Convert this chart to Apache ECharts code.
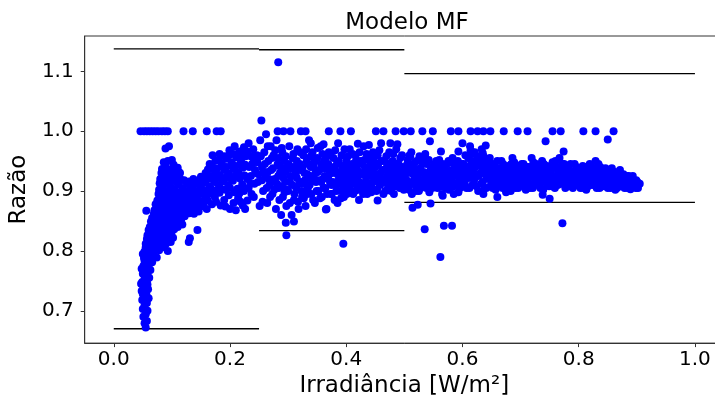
<!DOCTYPE html>
<html>
<head>
<meta charset="utf-8">
<script src="https://cdn.jsdelivr.net/npm/echarts@6/dist/echarts.min.js"></script>
<style>
  html, body { margin: 0; padding: 0; background: #fff; overflow: hidden; }
  /* plot runs past the right edge of the window, like the cropped original */
  #chart { width: 724px; height: 403px; }
</style>
</head>
<body>
<div id="chart"></div>
<script>
// Horizontal reference segments (x start, x end, level)
const segStart = [0, 0.25, 0.5, 0, 0.25, 0.5];
const segEnd = [0.25, 0.5, 1.0, 0.25, 0.5, 1.0];
const segLevel = [1.1375, 1.136, 1.096, 0.670, 0.834, 0.881];

const xTicks = [0, 0.2, 0.4, 0.6, 0.8, 1.0];
const yTicks = [0.7, 0.8, 0.9, 1.0, 1.1];

// Points sitting on ratio = 1.0
const rowOne = [
    [0.046,1],[0.052,1],[0.057,1],[0.062,1],[0.067,1],[0.072,1],[0.077,1],[0.083,1],[0.088,1],[0.093,1],
    [0.120,1],[0.136,1],[0.160,1],[0.177,1],[0.184,1],[0.282,1],[0.292,1],[0.304,1],[0.322,1],[0.330,1],
    [0.370,1],[0.390,1],[0.408,1],[0.451,1],[0.464,1],[0.485,1],[0.499,1],[0.511,1],[0.531,1],[0.549,1],
    [0.580,1],[0.593,1],[0.614,1],[0.626,1],[0.636,1],[0.648,1],[0.671,1],[0.695,1],[0.712,1],[0.755,1],
    [0.769,1],[0.808,1],[0.829,1],[0.860,1]
];

// Steep rise at low irradiance
const risePts = [
    [0.055,0.672],[0.053,0.679],[0.057,0.683],[0.051,0.690],[0.055,0.694],[0.058,0.700],[0.050,0.703],[0.053,0.709],
    [0.057,0.713],[0.049,0.718],[0.052,0.724],[0.056,0.727],[0.060,0.721],[0.048,0.733],[0.051,0.738],[0.055,0.741],
    [0.059,0.736],[0.049,0.748],[0.053,0.752],[0.057,0.749],[0.061,0.755],[0.050,0.762],[0.054,0.766],[0.058,0.763],
    [0.063,0.768],[0.051,0.775],[0.055,0.779],[0.060,0.776],[0.066,0.781],[0.052,0.788],[0.057,0.791],[0.062,0.787],
    [0.068,0.793],[0.074,0.789],[0.053,0.799],[0.058,0.803],[0.064,0.798],[0.070,0.805],[0.078,0.801],[0.086,0.806],
    [0.093,0.800],[0.055,0.812],[0.061,0.816],[0.067,0.811],[0.073,0.818],[0.080,0.814],[0.088,0.819],[0.098,0.815],
    [0.058,0.826],[0.064,0.830],[0.070,0.824],[0.077,0.832],[0.084,0.827],[0.091,0.834],[0.099,0.829],[0.104,0.836],
    [0.062,0.840],[0.068,0.845],[0.075,0.839],[0.082,0.846],[0.089,0.841],[0.096,0.848],[0.103,0.843],[0.111,0.849],
    [0.118,0.844],[0.066,0.855],[0.072,0.859],[0.079,0.853],[0.086,0.861],[0.093,0.856],[0.100,0.862],[0.107,0.857],
    [0.114,0.864],[0.122,0.858],[0.130,0.863],[0.070,0.868],[0.077,0.872],[0.084,0.866],[0.091,0.874],[0.098,0.869],
    [0.105,0.875],[0.112,0.870],[0.119,0.877],[0.126,0.871],[0.134,0.876],[0.142,0.869],[0.150,0.874],[0.160,0.870],
    [0.075,0.884],[0.081,0.889],[0.087,0.882],[0.094,0.891],[0.101,0.885],[0.108,0.892],[0.115,0.886],[0.122,0.893],
    [0.129,0.887],[0.136,0.894],[0.143,0.888],[0.150,0.895],[0.158,0.889],[0.166,0.896],[0.174,0.890],[0.182,0.897],
    [0.190,0.885],[0.198,0.893],[0.206,0.880],[0.214,0.888],[0.222,0.876],[0.230,0.884],[0.078,0.902],[0.084,0.907],
    [0.090,0.900],[0.097,0.909],[0.104,0.903],[0.111,0.911],[0.118,0.905],[0.126,0.912],[0.133,0.906],[0.141,0.913],
    [0.149,0.907],[0.157,0.914],[0.165,0.908],[0.173,0.915],[0.181,0.909],[0.189,0.916],[0.197,0.910],[0.205,0.917],
    [0.213,0.904],[0.221,0.911],[0.080,0.920],[0.086,0.926],[0.093,0.919],[0.100,0.928],[0.107,0.922],[0.114,0.930],
    [0.121,0.918],[0.150,0.924],[0.158,0.930],[0.166,0.925],[0.174,0.933],[0.182,0.927],[0.190,0.935],[0.198,0.929],
    [0.206,0.937],[0.214,0.931],[0.222,0.939],[0.083,0.937],[0.089,0.942],[0.096,0.936],[0.103,0.944],[0.110,0.939],
    [0.165,0.945],[0.175,0.951],[0.186,0.946],[0.194,0.954],[0.203,0.948],[0.211,0.956],[0.219,0.950],[0.227,0.958],
    [0.089,0.971],[0.095,0.975],[0.182,0.962],[0.199,0.968],[0.208,0.975],[0.216,0.966],[0.224,0.973],[0.232,0.980],
    [0.240,0.970],[0.170,0.960]
];

// Extra points that thicken the rise
const riseFill = [
    [0.047,0.745],[0.050,0.728],[0.054,0.735],[0.058,0.744],[0.052,0.760],[0.056,0.757],[0.060,0.770],[0.048,0.770],
    [0.053,0.783],[0.058,0.785],[0.064,0.792],[0.050,0.795],[0.055,0.806],[0.061,0.808],[0.068,0.800],[0.075,0.810],
    [0.083,0.808],[0.090,0.812],[0.057,0.820],[0.064,0.822],[0.071,0.828],[0.079,0.824],[0.087,0.829],[0.095,0.825],
    [0.102,0.822],[0.060,0.835],[0.067,0.836],[0.074,0.847],[0.081,0.837],[0.088,0.850],[0.095,0.838],[0.102,0.852],
    [0.110,0.840],[0.116,0.853],[0.064,0.849],[0.069,0.862],[0.076,0.864],[0.083,0.857],[0.090,0.865],[0.097,0.859],
    [0.104,0.867],[0.110,0.860],[0.117,0.868],[0.124,0.866],[0.132,0.870],[0.138,0.862],[0.146,0.866],[0.072,0.878],
    [0.079,0.880],[0.086,0.876],[0.093,0.879],[0.100,0.878],[0.107,0.881],[0.114,0.878],[0.121,0.882],[0.128,0.880],
    [0.135,0.884],[0.142,0.879],[0.148,0.883],[0.155,0.880],[0.162,0.884],[0.169,0.878],[0.176,0.882],[0.184,0.876],
    [0.192,0.874],[0.200,0.870],[0.210,0.868],[0.218,0.882],[0.226,0.870],
    [0.077,0.895],[0.083,0.896],[0.090,0.893],[0.097,0.897],[0.104,0.896],[0.111,0.898],[0.118,0.896],[0.125,0.900],
    [0.132,0.898],[0.139,0.901],[0.146,0.899],[0.153,0.902],[0.160,0.900],[0.168,0.903],[0.176,0.901],[0.184,0.904],
    [0.192,0.902],[0.200,0.905],[0.208,0.898],[0.216,0.896],[0.224,0.900],
    [0.079,0.913],[0.087,0.915],[0.094,0.912],[0.101,0.917],[0.109,0.914],[0.116,0.919],[0.130,0.916],[0.137,0.920],
    [0.145,0.917],[0.153,0.919],[0.161,0.920],[0.169,0.921],[0.177,0.922],[0.185,0.920],[0.193,0.923],[0.201,0.922],
    [0.209,0.925],[0.217,0.921],[0.225,0.926],
    [0.082,0.930],[0.090,0.933],[0.097,0.929],[0.105,0.934],[0.112,0.932],[0.162,0.936],[0.170,0.940],[0.178,0.938],
    [0.186,0.942],[0.194,0.940],[0.202,0.943],[0.210,0.942],[0.218,0.945],[0.226,0.944],
    [0.086,0.948],[0.093,0.950],[0.100,0.952],[0.180,0.952],[0.190,0.958],[0.198,0.960],[0.206,0.962],[0.214,0.958],
    [0.222,0.963],[0.230,0.966],[0.236,0.958]
];

// Plateau between 0.23 and 0.5
const plateauPts = [
    [0.232,0.905],[0.236,0.925],[0.238,0.945],[0.241,0.890],[0.243,0.935],[0.246,0.960],[0.248,0.915],[0.251,0.875],
    [0.252,0.985],[0.254,1.018],[0.255,0.940],[0.257,0.900],[0.259,0.965],[0.261,0.925],[0.262,0.995],[0.264,0.880],
    [0.266,0.950],[0.268,0.910],[0.270,0.975],[0.271,0.935],[0.273,0.895],[0.275,0.960],[0.277,0.920],[0.279,0.870],
    [0.280,0.985],[0.282,0.945],[0.284,0.905],[0.286,0.930],[0.288,0.860],[0.290,0.965],[0.291,0.890],[0.293,0.950],
    [0.295,0.915],[0.297,0.875],[0.299,0.940],[0.300,0.900],[0.302,0.975],[0.304,0.925],[0.306,0.860],[0.308,0.955],
    [0.310,0.885],[0.312,0.935],[0.314,0.905],[0.316,0.970],[0.318,0.870],[0.320,0.945],[0.322,0.915],[0.324,0.890],
    [0.326,0.960],[0.328,0.930],[0.330,0.875],[0.332,0.950],[0.334,0.905],[0.336,0.985],[0.338,0.925],[0.340,0.895],
    [0.342,0.965],[0.344,0.940],[0.346,0.880],[0.348,0.915],[0.350,0.955],[0.352,0.900],[0.354,0.935],[0.356,0.975],
    [0.358,0.890],[0.360,0.920],[0.362,0.950],[0.364,0.905],[0.366,0.870],[0.368,0.940],[0.370,0.965],[0.372,0.915],
    [0.374,0.895],[0.376,0.930],[0.378,0.955],[0.380,0.885],[0.382,0.910],[0.384,0.945],[0.386,0.980],[0.388,0.925],
    [0.390,0.900],[0.392,0.960],[0.394,0.935],[0.396,0.890],[0.398,0.915],[0.400,0.950],[0.402,0.930],[0.404,0.905],
    [0.406,0.970],[0.408,0.920],[0.410,0.945],[0.412,0.895],[0.414,0.935],[0.416,0.960],[0.418,0.910],[0.420,0.925],
    [0.422,0.885],[0.424,0.950],[0.426,0.930],[0.428,0.905],[0.430,0.975],[0.432,0.940],[0.434,0.915],[0.436,0.895],
    [0.438,0.955],[0.440,0.925],[0.442,0.945],[0.444,0.905],[0.446,0.965],[0.448,0.920],[0.450,0.940],[0.452,0.900],
    [0.454,0.960],[0.456,0.925],[0.458,0.910],[0.460,0.980],[0.462,0.935],[0.464,0.895],[0.466,0.950],[0.468,0.920],
    [0.470,0.940],[0.472,0.905],[0.474,0.965],[0.476,0.930],[0.478,0.915],[0.480,0.950],[0.482,0.895],[0.484,0.935],
    [0.486,0.970],[0.488,0.920],[0.490,0.945],[0.492,0.905],[0.494,0.930],[0.496,0.960],[0.498,0.915],
    [0.235,0.912],[0.245,0.930],[0.255,0.918],[0.265,0.932],[0.272,0.915],[0.283,0.925],[0.289,0.908],[0.296,0.932],
    [0.303,0.915],[0.309,0.940],[0.315,0.922],[0.321,0.935],[0.327,0.912],[0.333,0.928],[0.339,0.940],[0.345,0.920],
    [0.351,0.932],[0.357,0.915],[0.363,0.938],[0.369,0.922],[0.375,0.910],[0.381,0.935],[0.387,0.918],[0.393,0.925],
    [0.399,0.940],[0.405,0.918],[0.411,0.930],[0.417,0.942],[0.423,0.915],[0.429,0.928],[0.435,0.935],[0.441,0.912],
    [0.447,0.938],[0.453,0.922],[0.459,0.930],[0.465,0.915],[0.471,0.925],[0.477,0.945],[0.483,0.918],[0.489,0.928],
    [0.495,0.912],[0.339,0.980],[0.361,0.978],[0.420,0.979],[0.439,0.977],[0.476,0.980],[0.488,0.978]
];

const plateauFill = [
    [0.230,0.920],[0.233,0.940],[0.237,0.895],[0.240,0.955],[0.242,0.912],[0.247,0.948],[0.249,0.928],[0.253,0.958],
    [0.256,0.882],[0.258,0.932],[0.260,0.945],[0.263,0.905],[0.265,0.975],[0.267,0.920],[0.269,0.890],[0.272,0.955],
    [0.274,0.938],[0.276,0.902],[0.278,0.968],[0.281,0.912],[0.283,0.955],[0.285,0.885],[0.287,0.940],[0.289,0.972],
    [0.292,0.922],[0.294,0.898],[0.296,0.958],[0.298,0.902],[0.301,0.945],[0.303,0.880],[0.305,0.938],[0.307,0.910],
    [0.309,0.962],[0.311,0.895],[0.313,0.928],[0.315,0.950],[0.317,0.882],[0.319,0.912],[0.321,0.965],[0.323,0.900],
    [0.325,0.940],[0.327,0.888],[0.329,0.918],[0.331,0.970],[0.333,0.895],[0.335,0.945],[0.337,0.910],[0.339,0.958],
    [0.341,0.918],[0.343,0.885],[0.345,0.948],[0.347,0.930],[0.349,0.900],[0.351,0.972],[0.353,0.918],[0.355,0.888],
    [0.357,0.945],[0.359,0.962],[0.361,0.905],[0.363,0.925],[0.365,0.955],[0.367,0.895],[0.369,0.945],[0.371,0.932],
    [0.373,0.960],[0.375,0.895],[0.377,0.915],[0.379,0.940],[0.381,0.968],[0.383,0.900],[0.385,0.928],[0.387,0.950],
    [0.389,0.912],[0.391,0.888],[0.393,0.942],[0.395,0.905],[0.397,0.970],[0.399,0.925],[0.401,0.895],[0.403,0.958],
    [0.405,0.940],[0.407,0.910],[0.409,0.925],[0.411,0.962],[0.413,0.915],[0.415,0.900],[0.417,0.952],[0.419,0.935],
    [0.421,0.902],[0.423,0.965],[0.425,0.912],[0.427,0.945],[0.429,0.895],[0.431,0.952],[0.433,0.925],[0.435,0.962],
    [0.437,0.905],[0.439,0.940],[0.441,0.928],[0.443,0.898],[0.445,0.955],[0.447,0.915],[0.449,0.948],[0.451,0.928],
    [0.453,0.902],[0.455,0.945],[0.457,0.968],[0.459,0.912],[0.461,0.950],[0.463,0.920],[0.465,0.935],[0.467,0.900],
    [0.469,0.958],[0.471,0.912],[0.473,0.945],[0.475,0.920],[0.477,0.900],[0.479,0.935],[0.481,0.962],[0.483,0.908],
    [0.485,0.925],[0.487,0.945],[0.489,0.912],[0.491,0.935],[0.493,0.955],[0.495,0.925],[0.497,0.940],[0.499,0.902]
];

// Band from 0.5 up to 0.9
const tailPts = [
    [0.501,0.925],[0.503,0.905],[0.505,0.945],[0.507,0.915],[0.509,0.960],[0.511,0.930],[0.513,0.895],[0.515,0.940],
    [0.517,0.920],[0.519,0.910],[0.521,0.950],[0.523,0.928],[0.525,0.900],[0.527,0.938],[0.529,0.918],[0.531,0.955],
    [0.533,0.932],[0.535,0.908],[0.537,0.925],[0.539,0.945],[0.541,0.915],[0.543,0.898],[0.545,0.935],[0.547,0.922],
    [0.549,0.940],[0.551,0.912],[0.553,0.930],[0.555,0.950],[0.557,0.905],[0.559,0.925],[0.561,0.940],[0.563,0.918],
    [0.565,0.895],[0.567,0.935],[0.569,0.910],[0.571,0.928],[0.573,0.945],[0.575,0.915],[0.577,0.902],[0.579,0.932],
    [0.581,0.920],[0.583,0.955],[0.585,0.908],[0.587,0.926],[0.589,0.940],[0.591,0.912],[0.593,0.898],[0.595,0.935],
    [0.597,0.922],[0.599,0.945],[0.601,0.915],[0.603,0.930],[0.605,0.960],[0.607,0.905],[0.609,0.940],[0.611,0.922],
    [0.613,0.975],[0.615,0.950],[0.617,0.910],[0.619,0.935],[0.621,0.965],[0.623,0.925],[0.625,0.945],[0.627,0.900],
    [0.629,0.958],[0.631,0.930],[0.633,0.970],[0.635,0.915],[0.637,0.948],[0.639,0.928],[0.641,0.905],[0.643,0.940],
    [0.645,0.920],[0.647,0.955],[0.649,0.910],[0.651,0.930],[0.653,0.915],[0.655,0.945],[0.657,0.902],[0.659,0.925],
    [0.661,0.938],[0.663,0.912],[0.665,0.928],[0.667,0.950],[0.669,0.905],[0.671,0.920],[0.673,0.935],[0.675,0.898],
    [0.677,0.915],[0.679,0.942],[0.681,0.925],[0.683,0.910],[0.685,0.932],[0.687,0.918],[0.689,0.948],[0.691,0.905],
    [0.693,0.928],[0.695,0.915],[0.697,0.938],[0.699,0.922],[0.701,0.910],[0.703,0.932],[0.705,0.945],[0.707,0.918],
    [0.709,0.902],[0.711,0.928],[0.713,0.940],[0.715,0.912],[0.717,0.925],[0.719,0.955],[0.721,0.905],[0.723,0.935],
    [0.725,0.918],[0.727,0.945],[0.729,0.928],[0.731,0.910],[0.733,0.938],[0.735,0.920],[0.737,0.950],[0.739,0.902],
    [0.741,0.930],[0.743,0.915],[0.745,0.942],[0.747,0.925],[0.749,0.908],[0.751,0.935],[0.753,0.918],[0.755,0.948],
    [0.757,0.925],[0.759,0.905],[0.761,0.940],[0.763,0.915],[0.765,0.930],[0.767,0.955],[0.769,0.912],[0.771,0.935],
    [0.773,0.922],[0.775,0.945],[0.777,0.905],[0.779,0.928],[0.781,0.915],[0.783,0.938],[0.785,0.920],[0.787,0.908],
    [0.789,0.932],[0.791,0.918],[0.793,0.945],[0.795,0.925],[0.797,0.910],[0.799,0.935],[0.801,0.920],[0.803,0.905],
    [0.805,0.930],[0.807,0.942],[0.809,0.915],[0.811,0.925],[0.813,0.902],[0.815,0.935],[0.817,0.918],[0.819,0.945],
    [0.821,0.928],[0.823,0.910],[0.825,0.938],[0.827,0.920],[0.829,0.950],[0.831,0.905],[0.833,0.932],[0.835,0.915],
    [0.837,0.940],[0.839,0.925],[0.841,0.908],[0.843,0.935],[0.845,0.918],[0.847,0.928],[0.849,0.912],[0.851,0.932],
    [0.853,0.920],[0.855,0.905],[0.857,0.938],[0.859,0.915],[0.861,0.925],[0.863,0.902],[0.865,0.930],[0.867,0.912],
    [0.869,0.922],[0.871,0.935],[0.873,0.908],[0.875,0.918],[0.877,0.928],[0.879,0.905],[0.881,0.915],[0.883,0.925],
    [0.885,0.910],[0.887,0.920],[0.889,0.903],[0.891,0.915],[0.893,0.925],[0.896,0.908],[0.899,0.918],[0.902,0.905],
    [0.905,0.912],
    [0.544,0.983],[0.563,0.966],[0.593,0.966],[0.600,0.980],[0.614,0.968],[0.635,0.963],[0.640,0.976],[0.686,0.955],
    [0.743,0.983],[0.774,0.966],[0.850,0.986],[0.510,0.958],[0.576,0.950]
];

const tailFill = [
    [0.502,0.935],[0.504,0.918],[0.506,0.952],[0.508,0.902],[0.510,0.940],[0.512,0.965],[0.514,0.912],[0.516,0.928],
    [0.518,0.948],[0.520,0.900],[0.522,0.935],[0.524,0.915],[0.526,0.958],[0.528,0.905],[0.530,0.930],[0.532,0.945],
    [0.534,0.918],[0.536,0.962],[0.538,0.905],[0.540,0.930],[0.542,0.952],[0.544,0.912],[0.546,0.928],[0.548,0.905],
    [0.550,0.925],[0.552,0.945],[0.554,0.920],[0.556,0.935],[0.558,0.912],[0.560,0.952],[0.562,0.928],[0.564,0.908],
    [0.566,0.945],[0.568,0.922],[0.570,0.938],[0.572,0.905],[0.574,0.930],[0.576,0.918],[0.578,0.948],[0.580,0.908],
    [0.582,0.935],[0.584,0.925],[0.586,0.945],[0.588,0.912],[0.590,0.930],[0.592,0.950],[0.594,0.918],[0.596,0.905],
    [0.598,0.932],[0.600,0.925],[0.602,0.945],[0.604,0.912],[0.606,0.935],[0.608,0.925],[0.610,0.955],[0.612,0.905],
    [0.614,0.940],[0.616,0.928],[0.618,0.962],[0.620,0.918],[0.622,0.940],[0.624,0.908],[0.626,0.955],[0.628,0.925],
    [0.630,0.945],[0.632,0.912],[0.634,0.938],[0.636,0.958],[0.638,0.905],[0.640,0.935],[0.642,0.922],[0.644,0.950],
    [0.646,0.935],[0.648,0.925],[0.650,0.945],[0.652,0.905],[0.654,0.928],[0.656,0.938],[0.658,0.915],[0.660,0.950],
    [0.662,0.925],[0.664,0.908],[0.666,0.935],[0.668,0.920],[0.670,0.945],[0.672,0.910],[0.674,0.928],[0.676,0.938],
    [0.678,0.905],[0.680,0.932],[0.682,0.918],[0.684,0.945],[0.686,0.925],[0.688,0.910],[0.690,0.935],[0.692,0.920],
    [0.694,0.942],[0.696,0.905],[0.698,0.930],[0.700,0.918],[0.702,0.945],[0.704,0.922],[0.706,0.932],[0.708,0.912],
    [0.710,0.940],[0.712,0.918],[0.714,0.932],[0.716,0.905],[0.718,0.940],[0.720,0.925],[0.722,0.948],[0.724,0.910],
    [0.726,0.932],[0.728,0.918],[0.730,0.942],[0.732,0.925],[0.734,0.905],[0.736,0.935],[0.738,0.915],[0.740,0.945],
    [0.742,0.922],[0.744,0.932],[0.746,0.910],[0.748,0.940],[0.750,0.918],[0.752,0.928],[0.754,0.908],[0.756,0.938],
    [0.758,0.918],[0.760,0.950],[0.762,0.925],[0.764,0.910],[0.766,0.940],[0.768,0.928],[0.770,0.918],[0.772,0.945],
    [0.774,0.912],[0.776,0.932],[0.778,0.920],[0.780,0.940],[0.782,0.908],[0.784,0.928],[0.786,0.945],[0.788,0.918],
    [0.790,0.905],[0.792,0.930],[0.794,0.915],[0.796,0.940],[0.798,0.922],[0.800,0.910],[0.802,0.935],[0.804,0.918],
    [0.806,0.925],[0.808,0.905],[0.810,0.940],[0.812,0.915],[0.814,0.928],[0.816,0.908],[0.818,0.932],[0.820,0.920],
    [0.822,0.940],[0.824,0.912],[0.826,0.928],[0.828,0.915],[0.830,0.935],[0.832,0.922],[0.834,0.945],[0.836,0.905],
    [0.838,0.918],[0.840,0.932],[0.842,0.922],[0.844,0.912],[0.846,0.938],[0.848,0.920],[0.850,0.905],[0.852,0.925],
    [0.854,0.915],[0.856,0.930],[0.858,0.908],[0.860,0.920],[0.862,0.932],[0.864,0.915],[0.866,0.905],[0.868,0.928],
    [0.870,0.918],[0.872,0.910],[0.874,0.925],[0.876,0.915],[0.878,0.920],[0.880,0.908],[0.882,0.918],[0.884,0.905],
    [0.886,0.925],[0.888,0.912],[0.890,0.920],[0.894,0.912],[0.898,0.905],[0.901,0.915]
];

// Scattered low and high points
const outlierPts = [
    [0.283,1.115],[0.056,0.867],[0.129,0.815],[0.131,0.821],[0.144,0.835],[0.297,0.826],[0.395,0.812],
    [0.296,0.847],[0.310,0.849],[0.365,0.869],[0.385,0.880],[0.454,0.884],
    [0.514,0.872],[0.523,0.877],[0.545,0.879],[0.535,0.836],[0.568,0.842],[0.582,0.842],[0.562,0.790],
    [0.566,0.892],[0.585,0.895],[0.636,0.895],[0.660,0.890],[0.683,0.900],[0.738,0.894],[0.750,0.887],
    [0.772,0.846]
];

function buildSegments() {
    return segStart.map((x0, i) => ({
        type: 'line',
        data: [[x0, segLevel[i]], [segEnd[i], segLevel[i]]],
        symbol: 'none',
        silent: true,
        lineStyle: { color: '#000', width: 1.3 },
        z: 2
    }));
}

const chart = echarts.init(document.getElementById('chart'));
const font = 'DejaVu Sans';

const option = {
    animation: false,
    backgroundColor: '#fff',
    title: {
        text: 'Modelo MF',
        left: 402,
        top: 7,
        textAlign: 'center',
        textStyle: { fontFamily: font, fontSize: 23, fontWeight: 'normal', color: '#000' }
    },
    grid: {
        left: 84, top: 36, right: 0, bottom: 56,
        show: true, borderColor: '#333', borderWidth: 1
    },
    xAxis: {
        type: 'value',
        min: -0.05, max: 1.05,
        name: 'Irradiância [W/m²]',
        nameLocation: 'middle',
        nameGap: 29,
        nameTextStyle: { fontFamily: font, fontSize: 23, color: '#000' },
        axisLine: { show: true, onZero: false, lineStyle: { color: '#333' } },
        axisTick: { show: true, length: 4, lineStyle: { color: '#333' }, customValues: xTicks },
        axisLabel: {
            fontFamily: font, fontSize: 20, color: '#000', margin: 7,
            customValues: xTicks,
            formatter: v => v.toFixed(1)
        },
        splitLine: { show: false }
    },
    yAxis: {
        type: 'value',
        min: 0.646, max: 1.159,
        name: 'Razão',
        nameLocation: 'middle',
        nameGap: 50,
        nameTextStyle: { fontFamily: font, fontSize: 23, color: '#000' },
        axisLine: { show: true, onZero: false, lineStyle: { color: '#333' } },
        axisTick: { show: true, length: 4, lineStyle: { color: '#333' }, customValues: yTicks },
        axisLabel: {
            fontFamily: font, fontSize: 20, color: '#000', margin: 11,
            customValues: yTicks,
            formatter: v => v.toFixed(1)
        },
        splitLine: { show: false }
    },
    series: buildSegments().concat([{
        type: 'scatter',
        data: rowOne.concat(risePts, riseFill, plateauPts, plateauFill, tailPts, tailFill, outlierPts),
        symbolSize: 8,
        itemStyle: { color: '#0000ff', opacity: 1 },
        z: 3
    }])
};

chart.setOption(option);
window.addEventListener('resize', () => chart.resize());
</script>
</body>
</html>
